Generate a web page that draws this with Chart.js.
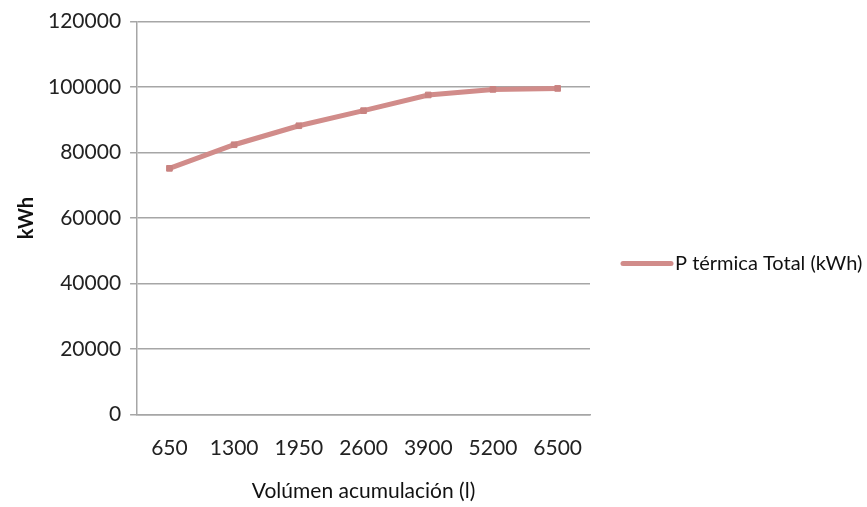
<!DOCTYPE html>
<html>
<head>
<meta charset="utf-8">
<script src="https://cdn.jsdelivr.net/npm/chart.js@4/dist/chart.umd.min.js"></script>
<style>
  html, body { margin: 0; padding: 0; background: #fff; }
  #wrap { width: 867px; height: 507px; }
</style>
</head>
<body>
<div id="wrap"><canvas id="chart"></canvas></div>
<script>
const categories = ['650', '1300', '1950', '2600', '3900', '5200', '6500'];
const seriesName = 'P térmica Total (kWh)';
const seriesValues = [75200, 82400, 88200, 92800, 97600, 99300, 99600];
const yTicks = [0, 20000, 40000, 60000, 80000, 100000, 120000];

const lineColor = '#d18c8a';
const gridColor = '#a6a6a6';
const fontFamily = 'Lato, "Open Sans", sans-serif';

// legend drawn by hand to the right of the plot (built-in one clipped the text)
const sideLegend = {
    id: 'sideLegend',
    afterDraw(chart) {
        const { ctx, chartArea } = chart;
        const ds = chart.data.datasets[0];
        const x0 = chartArea.right + 33;
        const y = chart.height / 2 + 10;
        ctx.save();
        ctx.strokeStyle = ds.borderColor;
        ctx.lineWidth = 5;
        ctx.lineCap = 'round';
        ctx.beginPath();
        ctx.moveTo(x0, y);
        ctx.lineTo(x0 + 48, y);
        ctx.stroke();
        ctx.fillStyle = '#111';
        ctx.font = '20px ' + fontFamily;
        ctx.textBaseline = 'middle';
        ctx.fillText(ds.label, x0 + 52, y);
        ctx.restore();
    }
};

new Chart(document.getElementById('chart').getContext('2d'), {
    type: 'line',
    data: {
        labels: categories,
        datasets: [{
            label: seriesName,
            data: seriesValues,
            borderColor: lineColor,
            backgroundColor: lineColor,
            borderWidth: 5,
            pointStyle: 'rect',
            pointRadius: 4,
            pointBorderWidth: 1,
            pointBorderColor: '#c98381',
            pointBackgroundColor: '#c98381',
            tension: 0
        }]
    },
    plugins: [sideLegend],
    options: {
        responsive: true,
        maintainAspectRatio: false,
        animation: false,
        layout: { padding: { left: 0, right: 277, top: 3, bottom: 3 } },
        plugins: {
            legend: { display: false },
            tooltip: { enabled: false }
        },
        scales: {
            x: {
                offset: true,
                grid: { display: false },
                border: { display: true, color: gridColor, width: 1.5 },
                ticks: { color: '#222', font: { family: fontFamily, size: 21 }, padding: 13 },
                title: {
                    display: true,
                    text: 'Volúmen acumulación (l)',
                    color: '#111',
                    font: { family: fontFamily, size: 21 },
                    padding: { top: 5, bottom: 0 }
                }
            },
            y: {
                min: 0,
                max: 120000,
                afterBuildTicks: axis => { axis.ticks = yTicks.map(v => ({ value: v })); },
                grid: { color: gridColor, lineWidth: 1.5, tickLength: 7 },
                border: { display: true, color: gridColor, width: 1.5 },
                ticks: {
                    color: '#222',
                    font: { family: fontFamily, size: 21 },
                    padding: 9,
                    callback: v => String(v)
                },
                title: {
                    display: true,
                    text: 'kWh',
                    color: '#111',
                    font: { family: fontFamily, size: 20, weight: 'bold' },
                    padding: { top: 15, bottom: 0 }
                }
            }
        }
    }
});
</script>
</body>
</html>
